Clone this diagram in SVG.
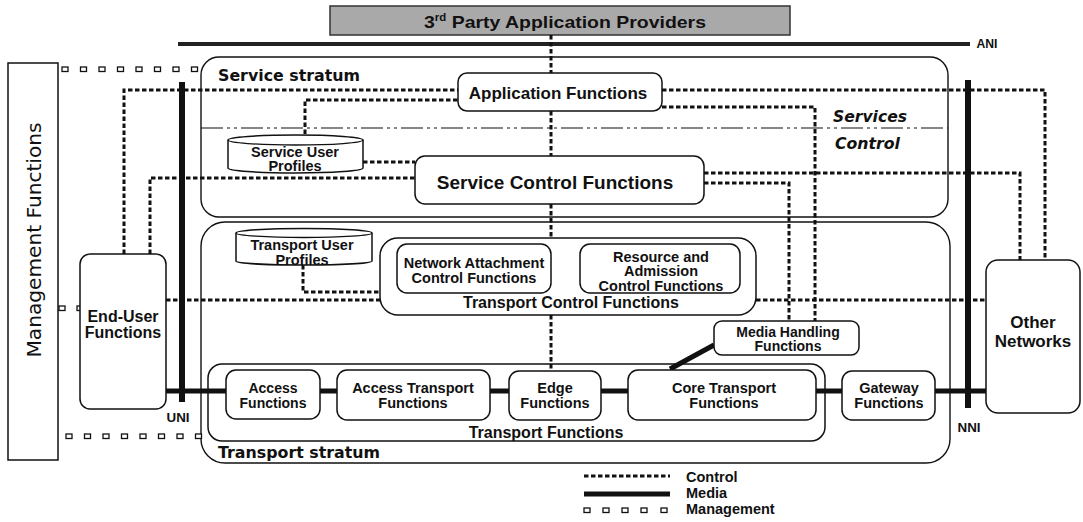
<svg xmlns="http://www.w3.org/2000/svg" width="1083" height="522" viewBox="0 0 1083 522">
<defs>
<style>
.box{fill:#fff;stroke:#111;stroke-width:1.5}
.cont{fill:none;stroke:#111;stroke-width:1.4}
.ctl{fill:none;stroke:#111;stroke-width:3;stroke-dasharray:4.5 2.5}
.med{fill:none;stroke:#111;stroke-width:5}
.bar{fill:none;stroke:#111;stroke-width:6}
.mg{fill:#fff;stroke:#111;stroke-width:1.3}
.t{font-family:"Liberation Sans",Arial,sans-serif;font-weight:bold;fill:#111;text-anchor:middle}
.tl{font-family:"Liberation Sans",Arial,sans-serif;font-weight:bold;fill:#111;text-anchor:start}
.d{font-family:"DejaVu Sans",sans-serif;font-weight:bold;fill:#111}
</style>
<g id="sq"><rect class="mg" x="0" y="0" width="6" height="4.5"/></g>
</defs>
<rect width="1083" height="522" fill="#fff"/>

<g id="banner">
<rect x="330" y="6" width="460" height="29" fill="#a9a9a9" stroke="#333" stroke-width="1.5"/>
<text class="t" x="565" y="28" font-size="17" fill="#222" textLength="282" lengthAdjust="spacingAndGlyphs">3<tspan font-size="10" dy="-7">rd</tspan><tspan dy="7"> Party Application Providers</tspan></text>
</g>

<g id="ani">
<path d="M178,44 H970" stroke="#222" stroke-width="4"/>
<text class="t" x="987" y="48" font-size="13" textLength="21" lengthAdjust="spacingAndGlyphs">ANI</text>
</g>

<g id="management-functions">
<rect x="8" y="63" width="50" height="397" fill="#fff" stroke="#111" stroke-width="1.5"/>
<text x="0" y="0" transform="translate(41,240) rotate(-90)" font-family="'DejaVu Sans',sans-serif" font-size="20" fill="#111" text-anchor="middle" textLength="235" lengthAdjust="spacingAndGlyphs">Management Functions</text>
</g>

<g id="service-stratum">
<rect class="cont" x="201" y="57" width="747" height="160" rx="18"/>
<path d="M201,128 H948" fill="none" stroke="#111" stroke-width="1.2" stroke-dasharray="22 4 3 4 3 4"/>
<text class="d" x="218" y="81" font-size="15.5" textLength="142" lengthAdjust="spacingAndGlyphs">Service stratum</text>
<text class="d" x="833" y="122" font-size="15.5" font-style="italic" textLength="74" lengthAdjust="spacingAndGlyphs">Services</text>
<text class="d" x="835" y="149" font-size="15.5" font-style="italic" textLength="65" lengthAdjust="spacingAndGlyphs">Control</text>
</g>

<g id="transport-stratum">
<rect class="cont" x="201" y="222" width="749" height="241" rx="24"/>
<text class="d" x="218" y="458" font-size="15.5" textLength="162" lengthAdjust="spacingAndGlyphs">Transport stratum</text>
</g>

<g id="transport-functions">
<rect class="box" x="208" y="364" width="617" height="77" rx="14"/>
<text class="t" x="546" y="438" font-size="16">Transport Functions</text>
</g>

<g id="connectors">
<path class="ctl" d="M124,254 V90 H458"/>
<path class="ctl" d="M305,134 V100 H458"/>
<path class="ctl" d="M662,90 H1045 V260"/>
<path class="ctl" d="M662,107 H815 V321"/>
<path class="ctl" d="M363,162 H415"/>
<path class="ctl" d="M150,254 V178 H415"/>
<path class="ctl" d="M704,173 H1020 V260"/>
<path class="ctl" d="M704,183 H789 V321"/>
<path class="ctl" d="M551,35 V73"/>
<path class="ctl" d="M551,111 V156"/>
<path class="ctl" d="M551,204 V238"/>
<path class="ctl" d="M551,315 V371"/>
<path class="ctl" d="M303,265 V292 H381"/>
<path class="ctl" d="M166,300 H381"/>
<path class="ctl" d="M756,300 H986"/>
<path class="ctl" d="M551,268 H580"/>
<path class="med" d="M166,391 H226"/>
<path class="med" d="M320,391 H337"/>
<path class="med" d="M490,391 H509"/>
<path class="med" d="M601,391 H628"/>
<path class="med" d="M816,391 H842"/>
<path class="med" d="M935,391 H986"/>
<path class="med" d="M670,369 L714,345"/>
<path class="bar" d="M182,82 V402"/>
<path class="bar" d="M968,80 V408"/>
<g id="mgmt-top">
<use href="#sq" x="62" y="67"/><use href="#sq" x="80.5" y="67"/><use href="#sq" x="99" y="67"/><use href="#sq" x="117.5" y="67"/><use href="#sq" x="136" y="67"/><use href="#sq" x="154.5" y="67"/><use href="#sq" x="173" y="67"/><use href="#sq" x="191.5" y="67"/>
</g>
<g id="mgmt-mid">
<use href="#sq" x="59" y="306"/><use href="#sq" x="77" y="306"/>
</g>
<g id="mgmt-bottom">
<use href="#sq" x="66" y="434"/><use href="#sq" x="84.5" y="434"/><use href="#sq" x="103" y="434"/><use href="#sq" x="121.5" y="434"/><use href="#sq" x="140" y="434"/><use href="#sq" x="158.5" y="434"/><use href="#sq" x="177" y="434"/><use href="#sq" x="195.5" y="434"/>
</g>
</g>

<g id="uni-nni-labels">
<text class="t" x="178" y="422" font-size="13" textLength="23" lengthAdjust="spacingAndGlyphs">UNI</text>
<text class="t" x="969" y="432" font-size="13" textLength="23" lengthAdjust="spacingAndGlyphs">NNI</text>
</g>

<g id="application-functions">
<rect class="box" x="458" y="73" width="204" height="38" rx="9"/>
<text class="t" x="558" y="99" font-size="17">Application Functions</text>
</g>

<g id="service-control-functions">
<rect class="box" x="415" y="156" width="289" height="48" rx="10"/>
<text class="t" x="555" y="189" font-size="19">Service Control Functions</text>
</g>

<g id="service-user-profiles">
<path class="box" d="M228,140 A67.5,5 0 0 1 363,140 V168 A67.5,5 0 0 1 228,168 Z"/>
<path d="M228,140 A67.5,5 0 0 0 363,140" fill="none" stroke="#111" stroke-width="1.3"/>
<text class="t" x="295" y="157" font-size="14.5">Service User</text>
<text class="t" x="295" y="171" font-size="14.5">Profiles</text>
</g>

<g id="transport-user-profiles">
<path class="box" d="M236,233 A68,4.5 0 0 1 372,233 V261 A68,4 0 0 1 236,261 Z"/>
<path d="M236,233 A68,4.5 0 0 0 372,233" fill="none" stroke="#111" stroke-width="1.3"/>
<text class="t" x="302" y="250" font-size="14.5">Transport User</text>
<text class="t" x="302" y="265" font-size="14.5">Profiles</text>
</g>

<g id="transport-control-functions">
<rect class="box" x="380" y="238" width="376" height="77" rx="18"/>
<text class="t" x="571" y="308" font-size="16">Transport Control Functions</text>
</g>

<g id="network-attachment-control-functions">
<rect class="box" x="397" y="244" width="154" height="49" rx="10"/>
<text class="t" x="474" y="268" font-size="14.5">Network Attachment</text>
<text class="t" x="474" y="283" font-size="14.5">Control Functions</text>
</g>

<g id="resource-admission-control-functions">
<rect class="box" x="580" y="244" width="160" height="49" rx="10"/>
<text class="t" x="661" y="262" font-size="14.5">Resource and</text>
<text class="t" x="661" y="276" font-size="14.5">Admission</text>
<text class="t" x="661" y="291" font-size="14.5">Control Functions</text>
</g>

<g id="media-handling-functions">
<rect class="box" x="714" y="321" width="145" height="34" rx="8"/>
<text class="t" x="788" y="337" font-size="14">Media Handling</text>
<text class="t" x="788" y="351" font-size="14">Functions</text>
</g>

<g id="access-functions">
<rect class="box" x="226" y="370" width="94" height="49" rx="10"/>
<text class="t" x="273" y="393" font-size="14">Access</text>
<text class="t" x="273" y="408" font-size="14">Functions</text>
</g>

<g id="access-transport-functions">
<rect class="box" x="337" y="370" width="153" height="50" rx="10"/>
<text class="t" x="413" y="393" font-size="14.5">Access Transport</text>
<text class="t" x="413" y="408" font-size="14.5">Functions</text>
</g>

<g id="edge-functions">
<rect class="box" x="509" y="371" width="92" height="49" rx="10"/>
<text class="t" x="555" y="393" font-size="14.5">Edge</text>
<text class="t" x="555" y="408" font-size="14.5">Functions</text>
</g>

<g id="core-transport-functions">
<rect class="box" x="628" y="370" width="188" height="50" rx="10"/>
<text class="t" x="724" y="393" font-size="14.5">Core Transport</text>
<text class="t" x="724" y="408" font-size="14.5">Functions</text>
</g>

<g id="gateway-functions">
<rect class="box" x="842" y="371" width="93" height="49" rx="10"/>
<text class="t" x="889" y="393" font-size="14.5">Gateway</text>
<text class="t" x="889" y="408" font-size="14.5">Functions</text>
</g>

<g id="end-user-functions">
<rect class="box" x="80" y="254" width="86" height="155" rx="10"/>
<text class="t" x="123" y="322" font-size="16">End-User</text>
<text class="t" x="123" y="338" font-size="16">Functions</text>
</g>

<g id="other-networks">
<rect class="box" x="986" y="260" width="94" height="153" rx="12"/>
<text class="t" x="1033" y="328" font-size="17">Other</text>
<text class="t" x="1033" y="347" font-size="17">Networks</text>
</g>

<g id="legend">
<path class="ctl" d="M584,476 H670"/>
<path class="med" d="M584,494 H670" stroke-width="4.5"/>
<use href="#sq" x="584" y="508"/><use href="#sq" x="603" y="508"/><use href="#sq" x="622" y="508"/><use href="#sq" x="641" y="508"/><use href="#sq" x="661" y="508"/>
<text class="tl" x="686" y="482" font-size="14.5">Control</text>
<text class="tl" x="686" y="498" font-size="14.5">Media</text>
<text class="tl" x="686" y="514" font-size="14.5">Management</text>
</g>
</svg>
